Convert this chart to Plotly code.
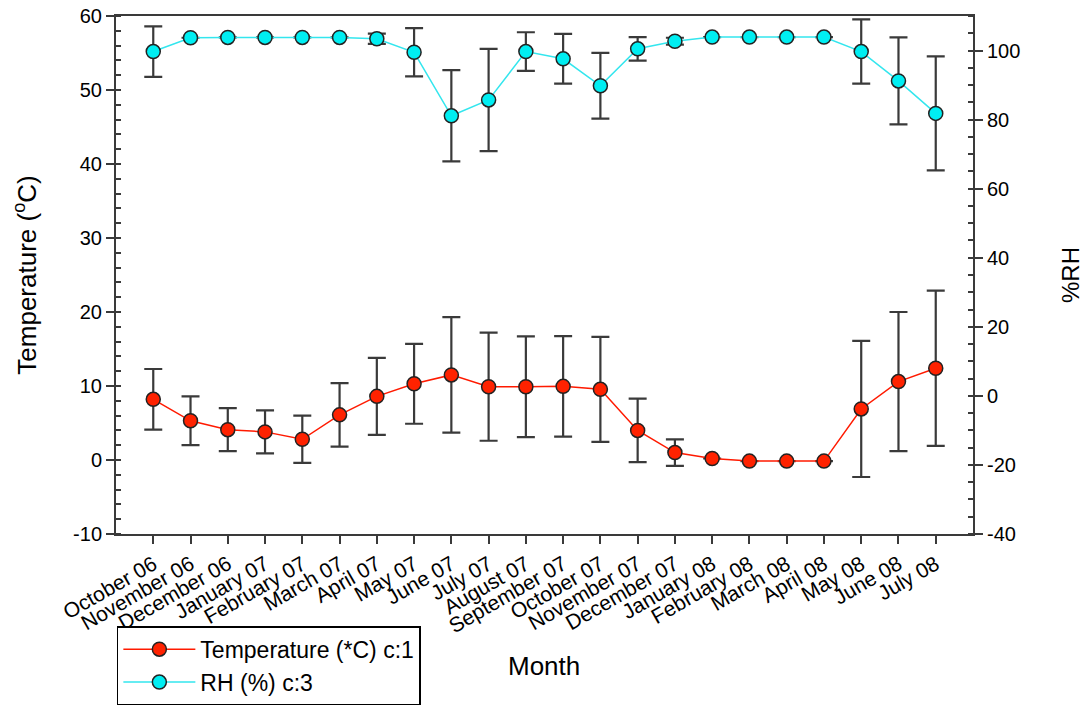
import plotly.graph_objects as go

months = ["October 06", "November 06", "December 06", "January 07", "February 07",
          "March 07", "April 07", "May 07", "June 07", "July 07", "August 07",
          "September 07", "October 07", "November 07", "December 07", "January 08",
          "February 08", "March 08", "April 08", "May 08", "June 08", "July 08"]

temp_mean = [8.2, 5.3, 4.1, 3.8, 2.8, 6.1, 8.6, 10.3, 11.5, 9.9, 9.9,
             9.95, 9.55, 4.0, 1.0, 0.2, -0.15, -0.15, -0.15, 6.9, 10.6, 12.4]
temp_err = [4.1, 3.3, 2.9, 2.9, 3.2, 4.3, 5.2, 5.4, 7.8, 7.3, 6.8,
            6.8, 7.1, 4.3, 1.8, 0.0, 0.0, 0.0, 0.0, 9.2, 9.4, 10.5]

rh_mean = [99.7, 103.7, 103.8, 103.8, 103.8, 103.8, 103.4, 99.5, 81.1, 85.7, 99.7,
           97.6, 89.8, 100.5, 102.7, 103.9, 103.9, 103.9, 103.9, 99.7, 91.2, 81.8]
rh_err = [7.3, 0.0, 0.0, 0.0, 0.0, 0.0, 1.5, 7.0, 13.2, 14.8, 5.6,
          7.2, 9.5, 3.4, 1.0, 0.0, 0.0, 0.0, 0.0, 9.3, 12.6, 16.5]

temp_ticks = [-10, 0, 10, 20, 30, 40, 50, 60]
rh_ticks = [-40, -20, 0, 20, 40, 60, 80, 100]

x = list(range(len(months)))
FONT = "Liberation Sans, Arial, sans-serif"
AXIS = "#3a3a3a"


def hyphen_labels(vals):
    # plain ASCII hyphen for negative tick labels
    return [str(v) for v in vals]


fig = go.Figure()

fig.add_trace(go.Scatter(
    x=x, y=temp_mean, name="Temperature (*C) c:1", mode="lines+markers",
    line=dict(color="#ff1a00", width=1.5),
    marker=dict(size=14, color="#ff2200", line=dict(color="#222222", width=1.5)),
    error_y=dict(type="data", array=temp_err, visible=True,
                 color=AXIS, thickness=2.2, width=9),
    yaxis="y",
))

fig.add_trace(go.Scatter(
    x=x, y=rh_mean, name="RH (%) c:3", mode="lines+markers",
    line=dict(color="#33e6ee", width=1.5),
    marker=dict(size=14, color="#00eef2", line=dict(color="#222222", width=1.5)),
    error_y=dict(type="data", array=rh_err, visible=True,
                 color=AXIS, thickness=2.2, width=9),
    yaxis="y2",
))

fig.update_layout(
    width=1087, height=707,
    margin=dict(l=116, r=114, t=16, b=173, autoexpand=False),
    paper_bgcolor="white", plot_bgcolor="white",
    font=dict(family=FONT, color="black", size=19),
    showlegend=True,
    legend=dict(
        x=0.001, y=-0.178, xanchor="left", yanchor="top",
        bordercolor="black", borderwidth=1.5,
        font=dict(size=23, family=FONT),
        itemwidth=72,
        tracegroupgap=0,
    ),
    xaxis=dict(
        range=[-1, 22], tickmode="array", tickvals=x, ticktext=months,
        tickangle=-30, ticks="outside", ticklen=8, tickwidth=2, tickcolor=AXIS,
        showline=True, linecolor=AXIS, linewidth=2, mirror=True,
        showgrid=False, zeroline=False, automargin=False,
        tickfont=dict(size=21),
    ),
    yaxis=dict(
        range=[-10, 60], tickmode="array", tickvals=temp_ticks,
        ticktext=hyphen_labels(temp_ticks),
        ticks="outside", ticklen=8, tickwidth=2, tickcolor=AXIS,
        minor=dict(tickmode="linear", tick0=0, dtick=2, ticks="inside",
                   ticklen=5, tickwidth=1.5, tickcolor=AXIS),
        showline=True, linecolor=AXIS, linewidth=2,
        showgrid=False, zeroline=False, automargin=False,
        title=dict(text="Temperature (<sup>o</sup>C)", font=dict(size=26), standoff=29),
        tickfont=dict(size=20),
    ),
    yaxis2=dict(
        range=[-40, 110], tickmode="array", tickvals=rh_ticks,
        ticktext=hyphen_labels(rh_ticks), overlaying="y", side="right",
        ticks="outside", ticklen=8, tickwidth=2, tickcolor=AXIS,
        minor=dict(tickmode="linear", tick0=0, dtick=5, ticks="inside",
                   ticklen=5, tickwidth=1.5, tickcolor=AXIS),
        showline=True, linecolor=AXIS, linewidth=2,
        showgrid=False, zeroline=False, automargin=False,
        title=dict(text="%RH", font=dict(size=24), standoff=43),
        tickfont=dict(size=20),
    ),
    annotations=[dict(
        text="Month", xref="paper", yref="paper", x=0.499, y=-0.254,
        xanchor="center", yanchor="middle", showarrow=False,
        font=dict(size=26, family=FONT),
    )],
)

fig.write_html("out.html")
